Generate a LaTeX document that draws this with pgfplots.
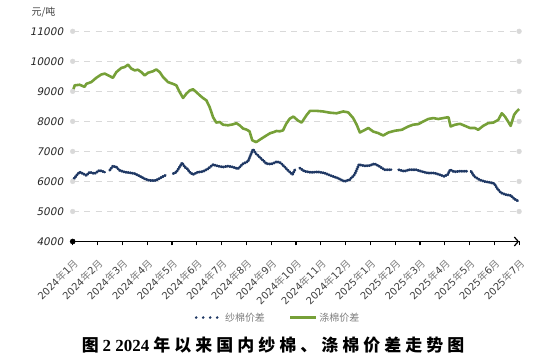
\documentclass[border=0pt]{standalone}
\usepackage{fontspec}
\usepackage{pgfplots}
\pgfplotsset{compat=1.18}
\usetikzlibrary{arrows.meta}
\setmainfont{DejaVu Sans}
\newfontfamily\obl{DejaVu Sans}[FakeSlant=0.2]
\newfontfamily\cjk{Noto Sans CJK SC}
\newfontfamily\cjktitle{Noto Sans CJK SC}[LetterSpace=24]
\newfontfamily\tnr{Liberation Serif}
\definecolor{cblue}{RGB}{31,56,100}
\definecolor{cgreen}{RGB}{118,160,56}
\definecolor{gridgrey}{RGB}{217,217,217}
\definecolor{labgrey}{RGB}{64,64,64}
\definecolor{cjkgrey}{RGB}{125,125,125}
\newcommand\ym[2]{#1{\cjk\color{cjkgrey}年}#2{\cjk\color{cjkgrey}月}}
\begin{document}
\begin{tikzpicture}
\useasboundingbox (0,0) rectangle (554bp,361bp);
\begin{axis}[
  at={(72.7bp,119.5bp)}, anchor=south west,
  scale only axis, width=446.4bp, height=210.2bp,
  xmin=0, xmax=18, ymin=4000, ymax=11000,
  clip=false,
  axis x line*=bottom, axis y line*=left,
  y axis line style={draw=none},
  x axis line style={line width=1.2bp, black, -{Straight Barb[length=4bp,width=9bp]}},
  xtick={0,...,18},
  xticklabels={\ym{2024}{1},\ym{2024}{2},\ym{2024}{3},\ym{2024}{4},\ym{2024}{5},\ym{2024}{6},\ym{2024}{7},\ym{2024}{8},\ym{2024}{9},\ym{2024}{10},\ym{2024}{11},\ym{2024}{12},\ym{2025}{1},\ym{2025}{2},\ym{2025}{3},\ym{2025}{4},\ym{2025}{5},\ym{2025}{6},\ym{2025}{7}},
  xticklabel style={font=\fontsize{10}{12}\selectfont, color=labgrey, rotate=45, anchor=north east, inner sep=1bp},
  xticklabel shift=11bp,
  tick align=outside,
  xtick style={black, line width=1.2bp},
  major tick length=4bp,
  ytick={4000,5000,...,11000},
  scaled y ticks=false,
  ytick style={draw=none},
  yticklabel style={font=\fontsize{10.5}{12}\selectfont\obl, color=black!85, xshift=-2bp},
  /pgf/number format/assume math mode=true,
  /pgf/number format/1000 sep={},
  ymajorgrids,
  major grid style={dash pattern=on 6bp off 5.5bp, line width=1.3bp, color=gridgrey},
  unbounded coords=jump,
  legend style={at={(0.46,-0.362)}, anchor=center, draw=none, fill=none,
    legend columns=2, font=\fontsize{10}{12}\selectfont\cjk, text=cjkgrey,
    /tikz/every even column/.append style={column sep=22bp}},
]
\addplot[only marks, mark=*, mark size=2.4bp, color=gridgrey, forget plot] coordinates {
(0,5000)(0,6000)(0,7000)(0,8000)(0,9000)(0,10000)(0,11000)
(18,5000)(18,6000)(18,7000)(18,8000)(18,9000)(18,10000)(18,11000)};
\addplot[only marks, mark=*, mark size=2.6bp, color=black, forget plot] coordinates {(0,4000)};
\addplot[color=cblue, line width=2.7bp, line cap=round, line join=round, dash pattern=on 0.9bp off 1.3bp,
  legend image code/.code={\draw[color=cblue, line width=2.8bp, line cap=round, dash pattern=on 0bp off 7bp] (0.05cm,0cm) -- (0.95cm,0cm);}]
coordinates {
(0,6030)(0.15,6200)(0.28,6310)(0.42,6260)(0.55,6200)(0.68,6310)(0.88,6260)(1.08,6370)(1.29,6310)(1.38,nan)
(1.49,6370)(1.62,6510)(1.76,6480)(1.89,6370)(2.10,6310)(2.30,6290)(2.50,6260)(2.70,6180)(2.90,6090)(3.10,6030)
(3.31,6030)(3.44,6070)(3.58,6140)(3.78,6220)(3.9,nan)(4.05,6260)(4.18,6310)(4.31,6480)(4.41,6620)(4.52,6480)
(4.62,6420)(4.72,6310)(4.85,6230)(5.05,6310)(5.25,6330)(5.45,6420)(5.66,6560)(5.86,6510)(6.06,6480)(6.26,6510)
(6.46,6480)(6.66,6420)(6.87,6590)(7.07,6670)(7.17,6870)(7.27,7070)(7.40,6920)(7.60,6760)(7.81,6590)(8.01,6580)
(8.21,6650)(8.35,6640)(8.48,6540)(8.68,6370)(8.86,6230)(8.96,6390)(9.05,nan)(9.15,6450)(9.34,6340)(9.61,6300)
(9.88,6320)(10.15,6280)(10.42,6190)(10.69,6110)(10.96,6000)(11.17,6060)(11.37,6230)(11.54,6560)(11.77,6520)
(11.97,6530)(12.17,6590)(12.37,6500)(12.57,6390)(12.84,6390)(12.98,nan)(13.14,6390)(13.37,6340)(13.57,6390)
(13.84,6390)(14.04,6340)(14.31,6280)(14.58,6280)(14.78,6230)(14.98,6170)(15.12,6230)(15.22,6390)(15.38,6320)
(15.59,6340)(15.79,6340)(15.92,6340)(15.99,nan)(16.06,6340)(16.19,6170)(16.39,6060)(16.60,6000)(16.80,5970)
(17.00,5930)(17.13,5750)(17.27,5620)(17.47,5560)(17.67,5530)(17.80,5420)(17.98,5340)};
\addlegendentry{纱棉价差}
\addplot[color=cgreen, line width=2.6bp, line join=round,
  legend image code/.code={\draw[color=cgreen, line width=3bp] (0cm,0cm) -- (0.9cm,0cm);}]
coordinates {
(0,9000)(0.08,9200)(0.28,9220)(0.48,9150)(0.55,9250)(0.75,9310)(0.95,9450)(1.15,9560)(1.29,9590)(1.49,9510)
(1.62,9450)(1.76,9640)(1.96,9780)(2.10,9810)(2.23,9890)(2.36,9760)(2.50,9700)(2.63,9720)(2.77,9640)(2.90,9530)
(3.04,9620)(3.24,9670)(3.37,9730)(3.51,9640)(3.64,9480)(3.84,9310)(4.04,9250)(4.18,9200)(4.31,8980)(4.45,8780)
(4.58,8920)(4.72,9030)(4.85,9070)(4.98,8980)(5.12,8870)(5.25,8780)(5.39,8700)(5.52,8480)(5.66,8140)(5.79,7960)
(5.93,7980)(6.06,7890)(6.26,7870)(6.46,7900)(6.60,7940)(6.73,7870)(6.87,7760)(7.00,7730)(7.13,7670)(7.24,7370)
(7.40,7310)(7.60,7420)(7.81,7530)(7.97,7610)(8.10,7640)(8.21,7680)(8.35,7670)(8.48,7700)(8.61,7920)(8.75,8090)
(8.90,8160)(9.08,8030)(9.23,7960)(9.44,8220)(9.57,8350)(9.84,8350)(10.10,8330)(10.37,8290)(10.64,8270)(10.91,8330)
(11.11,8300)(11.31,8110)(11.45,7890)(11.58,7630)(11.79,7720)(11.92,7780)(12.12,7660)(12.32,7610)(12.52,7530)
(12.73,7630)(13.00,7690)(13.27,7720)(13.53,7830)(13.73,7890)(13.94,7910)(14.14,8000)(14.34,8080)(14.54,8110)
(14.74,8080)(14.94,8110)(15.15,8140)(15.24,7830)(15.42,7890)(15.62,7920)(15.82,7850)(16.02,7780)(16.22,7780)
(16.35,7720)(16.55,7850)(16.75,7940)(16.96,7960)(17.16,8050)(17.30,8270)(17.43,8160)(17.56,7990)(17.66,7850)
(17.80,8220)(17.90,8330)(18.0,8410)};
\addlegendentry{涤棉价差}
\end{axis}
\node[font=\fontsize{10}{12}\selectfont\cjk, text=labgrey] at (43.5bp,349bp) {元/吨};
\node[font=\bfseries, inner sep=0pt] at (273bp,16bp) {{\cjktitle\fontsize{17}{19}\selectfont 图}\hspace{4bp}{\tnr\fontsize{17}{19}\selectfont 2 2024}\hspace{4bp}{\cjktitle\fontsize{17}{19}\selectfont 年以来国内纱棉、涤棉价差走势图}};
\end{tikzpicture}
\end{document}
